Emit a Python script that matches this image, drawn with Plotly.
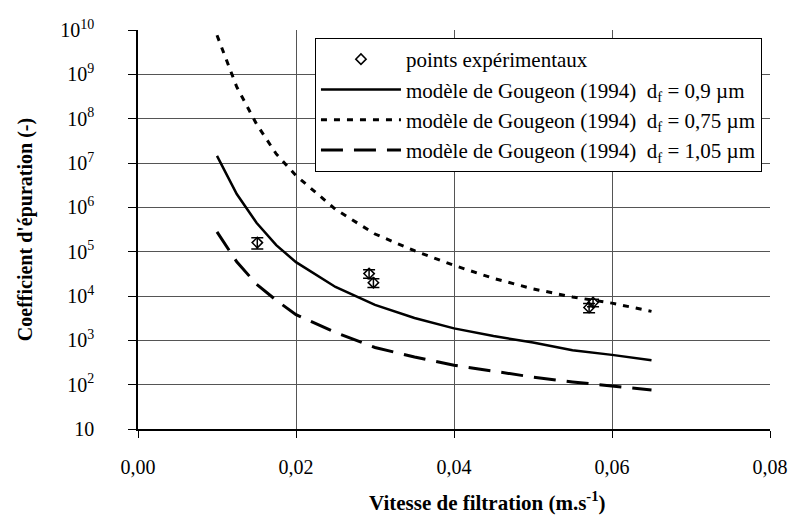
import plotly.graph_objects as go

# Filtration velocity (m/s) at which the Gougeon (1994) model was evaluated
vitesse_modele = [0.010, 0.0125, 0.015, 0.0175, 0.020, 0.025, 0.030,
                  0.035, 0.040, 0.045, 0.050, 0.055, 0.060, 0.065]

# Model efficiency coefficient for three fibre diameters
coef_df_090 = [1.45e7, 2.0e6, 4.5e5, 1.4e5, 5.8e4, 1.6e4, 6.3e3,
               3.2e3, 1.86e3, 1.25e3, 8.9e2, 6.0e2, 4.7e2, 3.55e2]
coef_df_075 = [7.6e9, 5.2e8, 7.6e7, 1.6e7, 5.2e6, 9.0e5, 2.5e5,
               1.05e5, 4.9e4, 2.5e4, 1.45e4, 9.5e3, 6.9e3, 4.5e3]
coef_df_105 = [2.8e5, 5.9e4, 1.85e4, 8.0e3, 3.8e3, 1.5e3, 6.9e2,
               4.2e2, 2.75e2, 2.0e2, 1.48e2, 1.15e2, 93, 76]

# Experimental points with their uncertainty
vitesse_exp = [0.0151, 0.02925, 0.0298, 0.0576, 0.0571]
coef_exp = [1.6e5, 3.2e4, 2.0e4, 7.1e3, 5.5e3]
erreur_exp = [4.5e4, 7.0e3, 4.5e3, 1.4e3, 1.3e3]

# Axis ticks
x_ticks = [0.00, 0.02, 0.04, 0.06, 0.08]
x_ticktext = ["0,00", "0,02", "0,04", "0,06", "0,08"]
y_ticks = [10 ** k for k in range(1, 11)]
y_ticktext = ["10"] + ["10<sup>%d</sup>" % k for k in range(2, 11)]

FONT = "Liberation Serif, Times New Roman, serif"

fig = go.Figure()

fig.add_trace(go.Scatter(
    x=vitesse_exp, y=coef_exp, mode="markers",
    name="points expérimentaux",
    marker=dict(symbol="diamond-open", size=8, color="black",
                line=dict(width=1.5, color="black")),
    error_y=dict(type="data", array=erreur_exp, visible=True,
                 color="black", thickness=1.5, width=6),
))
fig.add_trace(go.Scatter(
    x=vitesse_modele, y=coef_df_090, mode="lines",
    name="modèle de Gougeon (1994)  d<sub>f</sub> = 0,9 µm",
    line=dict(color="black", width=2.5),
))
fig.add_trace(go.Scatter(
    x=vitesse_modele, y=coef_df_075, mode="lines",
    name="modèle de Gougeon (1994)  d<sub>f</sub> = 0,75 µm",
    line=dict(color="black", width=3, dash="6px,7px"),
))
fig.add_trace(go.Scatter(
    x=vitesse_modele, y=coef_df_105, mode="lines",
    name="modèle de Gougeon (1994)  d<sub>f</sub> = 1,05 µm",
    line=dict(color="black", width=3, dash="22px,11px"),
))

fig.update_layout(
    width=800, height=517,
    margin=dict(l=138, r=20, t=30, b=88),
    paper_bgcolor="white", plot_bgcolor="white",
    font=dict(family=FONT, size=20, color="black"),
    showlegend=True,
    legend=dict(
        x=0.28, y=0.98, xanchor="left", yanchor="top",
        bgcolor="white", bordercolor="black", borderwidth=1,
        font=dict(family=FONT, size=21, color="black"),
        tracegroupgap=0, itemwidth=80,
    ),
)

fig.update_xaxes(
    range=[0, 0.08], tickvals=x_ticks, ticktext=x_ticktext,
    showgrid=True, gridcolor="#555555", gridwidth=1,
    showline=True, linecolor="black", linewidth=1.5,
    ticks="outside", ticklen=7, tickcolor="black",
    ticklabelstandoff=12, zeroline=False,
    tickfont=dict(family=FONT, size=20),
)
fig.update_yaxes(
    type="log", range=[1, 10], tickvals=y_ticks, ticktext=y_ticktext,
    showgrid=True, gridcolor="#555555", gridwidth=1,
    showline=True, linecolor="black", linewidth=1.5,
    ticks="outside", ticklen=8, tickcolor="black",
    ticklabelstandoff=30, zeroline=False,
    tickfont=dict(family=FONT, size=20),
    title=dict(text="<b>Coefficient d'épuration (-)</b>",
               font=dict(family=FONT, size=20), standoff=22),
)

# Horizontal axis title, placed below the tick labels
fig.add_annotation(
    text="<b>Vitesse de filtration (m.s<sup>-1</sup>)</b>",
    xref="paper", yref="paper", x=0.553, y=0, yshift=-88,
    xanchor="center", yanchor="bottom", showarrow=False,
    font=dict(family=FONT, size=21, color="black"),
)

fig.write_html("out.html")
